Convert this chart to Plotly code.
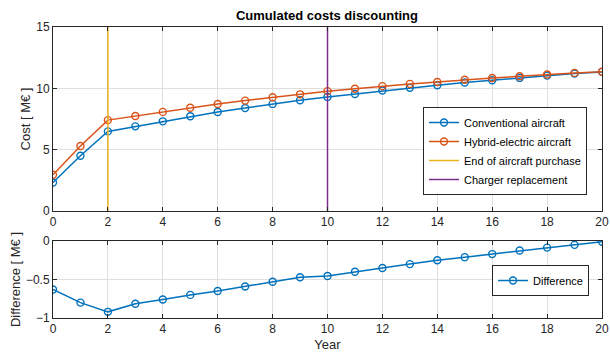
import plotly.graph_objects as go

years = list(range(0, 21))
conventional = [2.32, 4.50, 6.49, 6.90, 7.31, 7.72, 8.07, 8.40, 8.73, 9.03, 9.30,
                9.54, 9.82, 10.04, 10.25, 10.47, 10.66, 10.85, 11.04, 11.21, 11.34]
hybrid = [2.95, 5.30, 7.41, 7.74, 8.08, 8.42, 8.72, 9.00, 9.27, 9.51, 9.77,
          9.96, 10.18, 10.36, 10.52, 10.70, 10.84, 10.98, 11.13, 11.26, 11.35]
difference = [-0.63, -0.80, -0.92, -0.815, -0.76, -0.70, -0.65, -0.59, -0.53, -0.47, -0.455,
              -0.40, -0.35, -0.30, -0.25, -0.21, -0.17, -0.124, -0.086, -0.05, -0.01]
purchase_end_year = 2
charger_year = 10
cost_range = [0, 15]
diff_range = [-1, 0]

BLUE = "#0072BD"
ORANGE = "#D95319"
YELLOW = "#EDB120"
PURPLE = "#7E2F8E"
AX = "#262626"
FONT = "Liberation Sans"

fig = go.Figure()
mk = dict(symbol="circle-open", size=7, line=dict(width=1.4))
fig.add_trace(go.Scatter(x=years, y=conventional, mode="lines+markers", name="Conventional aircraft",
                         line=dict(color=BLUE, width=1.5), marker=dict(color=BLUE, **mk),
                         xaxis="x", yaxis="y", legend="legend"))
fig.add_trace(go.Scatter(x=years, y=hybrid, mode="lines+markers", name="Hybrid-electric aircraft",
                         line=dict(color=ORANGE, width=1.5), marker=dict(color=ORANGE, **mk),
                         xaxis="x", yaxis="y", legend="legend"))
fig.add_trace(go.Scatter(x=[purchase_end_year, purchase_end_year], y=cost_range, mode="lines",
                         name="End of aircraft purchase", line=dict(color=YELLOW, width=1.5),
                         xaxis="x", yaxis="y", legend="legend"))
fig.add_trace(go.Scatter(x=[charger_year, charger_year], y=cost_range, mode="lines",
                         name="Charger replacement", line=dict(color=PURPLE, width=1.5),
                         xaxis="x", yaxis="y", legend="legend"))
fig.add_trace(go.Scatter(x=years, y=difference, mode="lines+markers", name="Difference",
                         line=dict(color=BLUE, width=1.5), marker=dict(color=BLUE, **mk),
                         xaxis="x2", yaxis="y2", legend="legend2"))

W, H = 610, 358
xd = [53 / W, 602 / W]
axcommon = dict(showline=True, linecolor=AX, linewidth=1, mirror="ticks", ticks="inside",
                ticklen=4, tickcolor=AX, showgrid=True, gridcolor="#DFDFDF", gridwidth=1,
                zeroline=False, automargin=False, tickfont=dict(family=FONT, size=12, color=AX))

fig.update_layout(
    width=W, height=H, margin=dict(l=0, r=0, t=0, b=0, autoexpand=False),
    paper_bgcolor="white", plot_bgcolor="white",
    font=dict(family=FONT, size=12, color=AX),
    title=dict(text="<b>Cumulated costs discounting</b>", x=327 / W, xanchor="center",
               y=1 - 15 / H, yanchor="middle", automargin=False,
               font=dict(family=FONT, size=13, color="black")),
    xaxis=dict(domain=xd, range=[0, 20], dtick=2, anchor="y", **axcommon),
    yaxis=dict(domain=[(H - 211) / H, (H - 27) / H], range=cost_range, dtick=5, anchor="x",
               title=dict(text="Cost [ M€ ]", standoff=2, font=dict(family=FONT, size=13, color=AX)),
               **axcommon),
    xaxis2=dict(domain=xd, range=[0, 20], dtick=2, anchor="y2",
                title=dict(text="Year", standoff=4, font=dict(family=FONT, size=13, color=AX)),
                **axcommon),
    yaxis2=dict(domain=[(H - 318) / H, (H - 241) / H], range=diff_range, dtick=0.5, anchor="x2",
                title=dict(text="Difference [ M€ ]", standoff=2, font=dict(family=FONT, size=13, color=AX)),
                **axcommon),
    legend=dict(x=587 / W, xanchor="right", y=(H - 195) / H, yanchor="bottom",
                bgcolor="white", bordercolor=AX, borderwidth=1,
                font=dict(family=FONT, size=11, color="black"),
                tracegroupgap=0, itemwidth=30),
    legend2=dict(x=589 / W, xanchor="right", y=(H - 265) / H, yanchor="top",
                 bgcolor="white", bordercolor=AX, borderwidth=1,
                 font=dict(family=FONT, size=11, color="black"), itemwidth=30),
    showlegend=True,
)

fig.write_html("out.html", config={"displayModeBar": False},
               post_script="document.body.style.margin='0';document.body.style.overflow='hidden';")
